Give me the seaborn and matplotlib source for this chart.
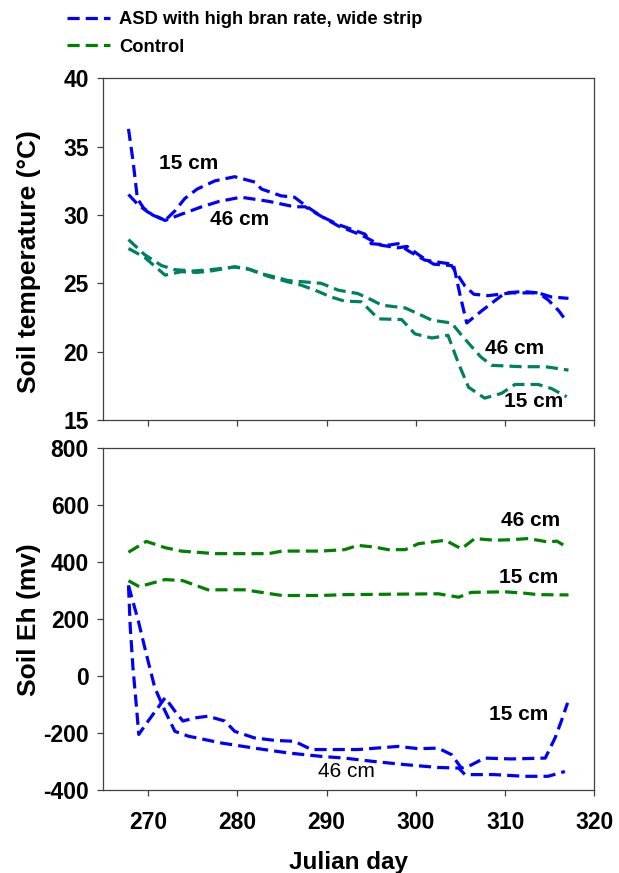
import matplotlib
matplotlib.use("Agg")
import matplotlib.pyplot as plt
import pandas as pd
import seaborn as sns

# Soil temperature (deg C), ASD with high bran rate
asd_temp_15_day = [267.8, 268.3, 268.8, 269.5, 270.5, 271.9, 273.0, 274.1, 275.5, 277.5, 279.7, 282.0,
                   282.7, 284.9, 286.4, 287.6, 289.4, 291.3, 293.0, 294.3, 295.0, 297.0, 298.0, 299.1,
                   301.0, 303.0, 304.2, 305.0, 305.7, 307.4, 310.0, 312.0, 313.7, 314.8, 316.0, 316.9]
asd_temp_15 = [36.3, 34.0, 31.2, 30.5, 30.0, 29.6, 30.3, 31.2, 31.9, 32.5, 32.8, 32.4,
               31.9, 31.4, 31.3, 30.7, 29.9, 29.3, 28.9, 28.6, 27.9, 27.8, 27.9, 27.4,
               26.7, 26.5, 26.4, 24.0, 22.1, 23.0, 24.3, 24.4, 24.3, 23.8, 23.0, 22.2]
asd_temp_46_day = [267.8, 268.8, 270.0, 271.9, 273.5, 276.0, 278.0, 280.4, 283.5, 286.4, 287.6, 289.4,
                   291.3, 294.0, 296.0, 298.0, 299.0, 300.5, 302.0, 304.0, 305.5, 306.5, 308.1, 310.7,
                   313.7, 315.2, 317.1]
asd_temp_46 = [31.5, 30.8, 30.2, 29.6, 30.0, 30.6, 31.0, 31.3, 31.0, 30.6, 30.6, 29.9,
               29.2, 28.5, 27.8, 27.6, 27.7, 27.0, 26.4, 26.3, 24.8, 24.2, 24.1, 24.3,
               24.3, 24.0, 23.9]

# Soil temperature (deg C), control
ctl_temp_15_day = [267.8, 269.6, 271.9, 273.7, 275.5, 277.0, 279.7, 281.5, 283.5, 285.7, 287.0, 288.7,
                   290.5, 292.0, 293.9, 295.8, 298.4, 299.9, 301.8, 303.6, 304.8, 305.9, 307.7, 309.6,
                   311.1, 313.7, 315.2, 316.9]
ctl_temp_15 = [27.55, 26.9, 25.6, 25.85, 25.8, 25.9, 26.2, 26.0, 25.5, 25.1, 24.9, 24.5,
               24.0, 23.7, 23.65, 22.4, 22.35, 21.3, 21.0, 21.2, 19.1, 17.4, 16.6, 16.95,
               17.6, 17.6, 17.3, 16.7]
ctl_temp_46_day = [267.8, 269.6, 271.5, 273.0, 275.0, 277.0, 279.7, 281.0, 282.7, 284.0, 285.7, 287.6,
                   289.4, 291.3, 293.5, 295.0, 296.2, 298.8, 300.5, 301.8, 304.0, 305.0, 306.2, 307.3,
                   308.5, 311.8, 314.5, 317.1]
ctl_temp_46 = [28.2, 27.1, 26.3, 26.0, 25.9, 26.0, 26.2, 26.1, 25.7, 25.5, 25.2, 25.1,
               25.0, 24.5, 24.25, 23.8, 23.4, 23.2, 22.7, 22.3, 22.1, 21.3, 20.4, 19.6,
               19.0, 18.9, 18.9, 18.65]

# Soil Eh (mv), ASD with high bran rate
asd_eh_15_day = [267.8, 268.0, 268.3, 268.7, 268.95, 270.0, 271.1, 271.9, 273.0, 273.9, 275.2, 276.7,
                 278.6, 279.7, 281.9, 284.2, 286.4, 288.3, 291.3, 293.5, 298.0, 300.3, 302.5, 304.0,
                 305.1, 305.9, 307.7, 310.7, 314.5, 315.6, 316.3, 317.0]
asd_eh_15 = [318, 171, 30, -111, -205, -158, -111, -76, -123, -158, -147, -141,
             -158, -194, -217, -226, -229, -258, -258, -258, -247, -255, -253, -276,
             -323, -317, -288, -291, -288, -217, -158, -94]
asd_eh_46_day = [267.8, 268.9, 269.8, 270.75, 271.9, 273.0, 274.5, 278.2, 281.9, 285.7, 289.4, 292.0,
                 295.0, 298.8, 302.5, 304.8, 305.5, 308.8, 312.2, 314.8, 316.7]
asd_eh_46 = [318, 194, 77, -41, -123, -194, -211, -235, -253, -270, -282, -288,
             -299, -311, -321, -323, -346, -346, -352, -352, -335]

# Soil Eh (mv), control
ctl_eh_15_day = [267.8, 269.0, 271.9, 273.9, 276.7, 280.8, 282.7, 285.0, 289.4, 292.0, 302.5, 304.8,
                 306.2, 310.0, 312.2, 313.7, 317.1]
ctl_eh_15 = [335, 314, 339, 335, 303, 303, 294, 283, 283, 286, 289, 277,
             294, 296, 291, 286, 285]
ctl_eh_46_day = [267.8, 269.8, 271.9, 273.7, 277.5, 280.8, 283.5, 285.0, 289.4, 292.0, 293.5, 295.4,
                 296.9, 298.8, 300.3, 303.3, 305.1, 306.6, 308.8, 310.7, 312.6, 314.8, 315.8, 316.9]
ctl_eh_46 = [435, 473, 451, 439, 430, 430, 430, 439, 439, 444, 459, 453,
             444, 444, 465, 477, 447, 483, 477, 479, 483, 471, 474, 453]

series_labels = ["ASD with high bran rate, wide strip", "Control"]
temp_ticks = [15, 20, 25, 30, 35, 40]
eh_ticks = [-400, -200, 0, 200, 400, 600, 800]
day_ticks = [270, 280, 290, 300, 310, 320]

BLUE = "#0000ff"
TEAL = "#008062"
GREEN = "#008000"
DASH = (0, (3.8, 1.9))
LW = 2.3
TICK_FONT = 16.5
LABEL_FONT = 15


def draw_line(ax, days, values, color):
    df = pd.DataFrame({"day": days, "value": values})
    sns.lineplot(data=df, x="day", y="value", ax=ax, color=color,
                 linewidth=LW, linestyle=DASH, estimator=None)


def style_axis(ax, yticks, ylim):
    ax.set_xlim(265, 320)
    ax.set_ylim(*ylim)
    ax.set_xticks(day_ticks)
    ax.set_yticks(yticks)
    ax.tick_params(direction="out", length=4, width=0.9, color="#404040",
                   labelsize=TICK_FONT, labelcolor="black")
    ax.tick_params(axis="y", pad=6.5)
    ax.tick_params(axis="x", pad=11)
    for label in ax.get_xticklabels() + ax.get_yticklabels():
        label.set_fontweight("bold")
    for spine in ax.spines.values():
        spine.set_visible(True)
        spine.set_color("#404040")
        spine.set_linewidth(0.9)
    ax.set_xlabel("")


def main():
    sns.set_style("ticks")
    plt.rcParams["font.family"] = ["Liberation Sans", "DejaVu Sans"]
    plt.rcParams["axes.unicode_minus"] = False
    plt.rcParams["text.color"] = "black"
    plt.rcParams["axes.labelcolor"] = "black"

    fig = plt.figure(figsize=(6.19, 8.73), dpi=100)
    ax_top = fig.add_axes([0.1672, 0.5189, 0.793, 0.3914])
    ax_bot = fig.add_axes([0.1672, 0.0951, 0.793, 0.3914])

    # Top panel: soil temperature
    draw_line(ax_top, asd_temp_15_day, asd_temp_15, BLUE)
    draw_line(ax_top, asd_temp_46_day, asd_temp_46, BLUE)
    draw_line(ax_top, ctl_temp_15_day, ctl_temp_15, TEAL)
    draw_line(ax_top, ctl_temp_46_day, ctl_temp_46, TEAL)
    style_axis(ax_top, temp_ticks, (15, 40))
    ax_top.set_xticklabels([])
    ax_top.set_ylabel("Soil temperature (\u00b0C)", fontsize=19, fontweight="bold")
    ax_top.yaxis.set_label_coords(-0.127, 0.465)

    bold = dict(fontsize=LABEL_FONT, fontweight="bold", ha="center", va="center")
    ax_top.text(274.5, 33.8, "15 cm", **bold)
    ax_top.text(280.3, 29.7, "46 cm", **bold)
    ax_top.text(311.1, 20.2, "46 cm", **bold)
    ax_top.text(313.2, 16.35, "15 cm", **bold)

    # Bottom panel: soil Eh
    draw_line(ax_bot, asd_eh_15_day, asd_eh_15, BLUE)
    draw_line(ax_bot, asd_eh_46_day, asd_eh_46, BLUE)
    draw_line(ax_bot, ctl_eh_15_day, ctl_eh_15, GREEN)
    draw_line(ax_bot, ctl_eh_46_day, ctl_eh_46, GREEN)
    style_axis(ax_bot, eh_ticks, (-400, 800))
    ax_bot.set_ylabel("Soil Eh (mv)", fontsize=19, fontweight="bold")
    ax_bot.yaxis.set_label_coords(-0.127, 0.5)
    ax_bot.set_xlabel("Julian day", fontsize=17.5, fontweight="bold")
    ax_bot.xaxis.set_label_coords(0.5, -0.18)

    ax_bot.text(312.8, 547, "46 cm", **bold)
    ax_bot.text(312.6, 347, "15 cm", **bold)
    ax_bot.text(311.5, -135, "15 cm", **bold)
    ax_bot.text(292.2, -334, "46 cm", fontsize=LABEL_FONT, ha="center", va="center")

    # Legend above the panels
    handles = [ax_bot.lines[0], ax_bot.lines[2]]
    fig.legend(handles, series_labels, loc="upper left", bbox_to_anchor=(0.108, 0.987),
               frameon=False, borderaxespad=0, borderpad=0, handlelength=2.35,
               handletextpad=0.5, labelspacing=0.57,
               prop={"size": 13.2, "weight": "bold", "family": "Liberation Sans"})

    fig.savefig("out.png", dpi=100)
    plt.close(fig)


if __name__ == "__main__":
    main()
